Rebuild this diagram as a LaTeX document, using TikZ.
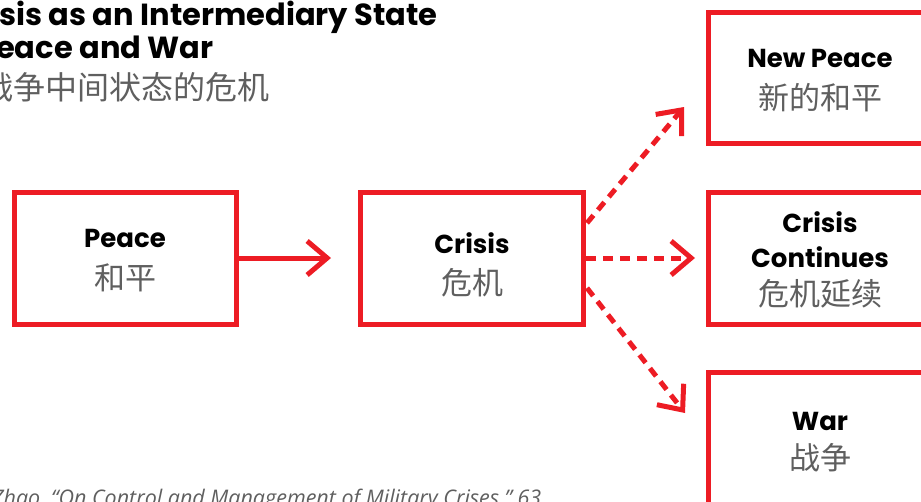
\documentclass[tikz,border=0pt]{standalone}
\usepackage{fontspec}
\usetikzlibrary{arrows.meta}
\newfontfamily\gotham{Poppins}
\newfontfamily\cjk{Noto Sans CJK SC}
\newfontfamily\notefont{Open Sans}
\definecolor{cred}{RGB}{237,28,36}
\definecolor{cgray}{RGB}{95,95,95}
\tikzset{
  box/.style={draw=cred, line width=5pt},
  en/.style={anchor=base, font=\gotham\bfseries\fontsize{26}{26}\selectfont, text=black, inner sep=0pt},
  zh/.style={anchor=base, font=\cjk\fontsize{31}{31}\selectfont, text=cgray, inner sep=0pt},
  solidarrow/.style={draw=cred, line width=5pt, -{Straight Barb[length=20pt,width=34pt,line width=5pt]}},
  dotarrow/.style={draw=cred, line width=5pt, dash pattern=on 10pt off 7pt, -{Straight Barb[length=20pt,width=34pt,line width=5pt]}},
}
\begin{document}
\begin{tikzpicture}[x=1pt,y=-1pt]
\useasboundingbox (0,0) rectangle (921,501);
% title
\node[anchor=base west, inner sep=0pt, font=\gotham\bfseries\fontsize{30.5}{30.5}\selectfont] (t1) at (-1,25) {sis as an Intermediary State};
\node[anchor=base west, inner sep=0pt, font=\gotham\bfseries\fontsize{30.5}{30.5}\selectfont] (t2) at (-4,58) {eace and War};
\node[anchor=base west, inner sep=0pt, font=\cjk\fontsize{32}{32}\selectfont, text=cgray] (t3) at (-19,99) {战争中间状态的危机};
% boxes
\draw[box] (14,192.5) rectangle (236,324.5);
\draw[box] (360.5,192.5) rectangle (583.5,324.5);
\draw[box] (708.5,12.5) rectangle (932,143.5);
\draw[box] (708.5,192.5) rectangle (932,324.5);
\draw[box] (708.5,372.5) rectangle (932,520);
\node[minimum width=222pt, minimum height=132pt, anchor=north west, inner sep=0pt] (peace) at (14,192.5) {};
\node[minimum width=223pt, minimum height=132pt, anchor=north west, inner sep=0pt] (crisis) at (360.5,192.5) {};
\node[minimum width=223pt, minimum height=131pt, anchor=north west, inner sep=0pt] (newpeace) at (708.5,12.5) {};
\node[minimum width=223pt, minimum height=132pt, anchor=north west, inner sep=0pt] (cont) at (708.5,192.5) {};
\node[minimum width=223pt, minimum height=148pt, anchor=north west, inner sep=0pt] (war) at (708.5,372.5) {};
% texts
\node[en] (l1) at (125,247) {Peace};
\node[zh] (l2) at (125,289) {和平};
\node[en] (l3) at (472,253) {Crisis};
\node[zh] (l4) at (472,294) {危机};
\node[en] (l5) at (820,67) {New Peace};
\node[zh] (l6) at (820,109) {新的和平};
\node[en] (l7) at (820,232) {Crisis};
\node[en] (l8) at (820,267) {Continues};
\node[zh] (l9) at (820,305) {危机延续};
\node[en] (l10) at (820,430) {War};
\node[zh] (l11) at (820,469) {战争};
% arrows
\coordinate (p1) at (peace.east);
\coordinate (p2) at (331,258);
\draw[solidarrow] ([xshift=2.5pt]p1 |- 0,258) -- (p2);
\coordinate (c0) at (586,258);
\coordinate (c1) at (695,258);
\coordinate (u0) at (587,223);
\coordinate (u1) at (684,107);
\coordinate (d0) at (587,288);
\coordinate (d1) at (685,413);
\draw[dotarrow] (c0) -- (c1);
\draw[dotarrow] (u0) -- (u1);
\draw[dotarrow] (d0) -- (d1);
% footnote
\node[anchor=base west, inner sep=0pt, font=\notefont\itshape\fontsize{21.5}{21.5}\selectfont, text=cgray] (fn) at (-8,505) {Zhao, “On Control and Management of Military Crises,” 63.};
\end{tikzpicture}
\end{document}
